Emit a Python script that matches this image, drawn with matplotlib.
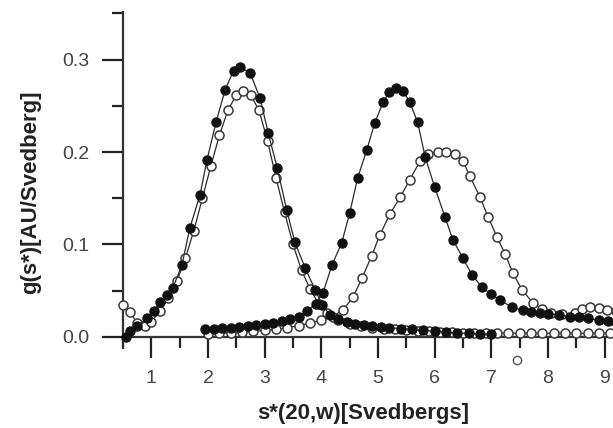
# Sedimentation coefficient distributions g(s*)

import matplotlib
matplotlib.use("Agg")
import matplotlib.pyplot as plt
from matplotlib.ticker import MultipleLocator

plt.rcParams['font.family'] = ['Liberation Sans', 'DejaVu Sans']

# first peak, filled circles
s1_fill_x = [0.55, 0.62, 0.75, 0.92, 1.05, 1.15, 1.28, 1.38, 1.54, 1.68, 1.86, 1.98, 2.14, 2.30,
             2.45, 2.56, 2.74, 2.92, 3.06, 3.22, 3.39, 3.53, 3.71, 3.89, 4.01, 4.15, 4.30, 4.45,
             4.60, 4.75, 4.90, 5.05, 5.20, 5.40, 5.60, 5.80, 6.00, 6.20, 6.40, 6.60, 6.80, 7.00]
s1_fill_y = [0.000, 0.006, 0.012, 0.020, 0.028, 0.038, 0.045, 0.053, 0.078, 0.118, 0.154, 0.191,
             0.232, 0.267, 0.288, 0.292, 0.286, 0.258, 0.221, 0.183, 0.137, 0.103, 0.075, 0.051,
             0.035, 0.024, 0.019, 0.016, 0.014, 0.013, 0.012, 0.011, 0.010, 0.009, 0.008, 0.007,
             0.006, 0.005, 0.004, 0.004, 0.003, 0.003]

# first peak, open circles
s1_open_x = [0.50, 0.62, 0.75, 0.88, 1.00, 1.15, 1.30, 1.45, 1.60, 1.75, 1.90, 2.05, 2.20, 2.35,
             2.50, 2.62, 2.75, 2.90, 3.05, 3.20, 3.35, 3.50, 3.65, 3.80, 3.95, 4.10, 4.30, 4.50,
             4.70, 4.90, 5.10, 5.30, 5.50, 5.70, 5.90, 6.10, 6.30, 6.50, 6.70, 6.90, 7.10, 7.30,
             7.50, 7.70, 7.90, 8.10, 8.30, 8.50, 8.70, 8.90, 9.10]
s1_open_y = [0.035, 0.027, 0.015, 0.012, 0.016, 0.028, 0.042, 0.060, 0.085, 0.115, 0.150, 0.185,
             0.218, 0.245, 0.262, 0.266, 0.262, 0.245, 0.212, 0.172, 0.135, 0.100, 0.072, 0.052,
             0.036, 0.026, 0.018, 0.014, 0.012, 0.010, 0.009, 0.008, 0.007, 0.006, 0.006, 0.005,
             0.005, 0.004, 0.004, 0.004, 0.004, 0.004, 0.004, 0.004, 0.004, 0.004, 0.004, 0.004,
             0.004, 0.004, 0.004]

# second peak, filled circles
s2_fill_x = [1.95, 2.10, 2.25, 2.40, 2.55, 2.70, 2.85, 3.00, 3.15, 3.30, 3.45, 3.60, 3.75, 3.90,
             4.03, 4.19, 4.36, 4.50, 4.64, 4.80, 4.94, 5.09, 5.20, 5.32, 5.44, 5.56, 5.70, 5.83,
             6.00, 6.18, 6.32, 6.50, 6.66, 6.83, 7.00, 7.15, 7.36, 7.55, 7.70, 7.85, 8.00, 8.20,
             8.38, 8.55, 8.70, 8.90, 9.05, 9.20]
s2_fill_y = [0.008, 0.009, 0.010, 0.010, 0.011, 0.012, 0.013, 0.014, 0.015, 0.017, 0.019, 0.022,
             0.028, 0.036, 0.048, 0.078, 0.102, 0.134, 0.172, 0.202, 0.231, 0.254, 0.265, 0.269,
             0.266, 0.254, 0.232, 0.195, 0.162, 0.130, 0.105, 0.085, 0.067, 0.054, 0.046, 0.040,
             0.032, 0.029, 0.027, 0.026, 0.025, 0.024, 0.022, 0.021, 0.020, 0.018, 0.017, 0.016]

# second peak, open circles
s2_open_x = [2.00, 2.20, 2.40, 2.60, 2.80, 3.00, 3.20, 3.40, 3.60, 3.80, 4.00, 4.20, 4.38, 4.56,
             4.72, 4.89, 5.03, 5.21, 5.39, 5.56, 5.74, 5.88, 6.05, 6.20, 6.35, 6.50, 6.62, 6.80,
             6.94, 7.10, 7.24, 7.38, 7.54, 7.73, 7.90, 8.05, 8.25, 8.47, 8.60, 8.74, 8.90, 9.04,
             9.20]
s2_open_y = [0.003, 0.004, 0.004, 0.005, 0.006, 0.007, 0.008, 0.010, 0.012, 0.015, 0.018, 0.022,
             0.029, 0.043, 0.064, 0.088, 0.110, 0.133, 0.151, 0.170, 0.190, 0.198, 0.200, 0.200,
             0.198, 0.190, 0.174, 0.151, 0.130, 0.108, 0.090, 0.069, 0.051, 0.037, 0.030, 0.026,
             0.025, 0.026, 0.030, 0.032, 0.031, 0.029, 0.028]

# stray point below the axis
stray_x = [7.45]
stray_y = [-0.025]

xticks = [1, 2, 3, 4, 5, 6, 7, 8, 9]
yticks = [0.0, 0.1, 0.2, 0.3]

fig = plt.figure(figsize=(6.13, 4.28), dpi=100)
ax = fig.add_axes([0.2007, 0.187, 0.832, 0.786])

line_col = '#2a2a2a'
for xs, ys in [(s1_open_x, s1_open_y), (s2_open_x, s2_open_y)]:
    ax.plot(xs, ys, color=line_col, lw=0.9, marker='o', ms=6.5, mfc='white',
            mec='#3a3a3a', mew=1.1, clip_on=False, zorder=3)
for xs, ys in [(s1_fill_x, s1_fill_y), (s2_fill_x, s2_fill_y)]:
    ax.plot(xs, ys, color=line_col, lw=0.9, marker='o', ms=6.5, mfc='#111111',
            mec='#111111', clip_on=False, zorder=4)
ax.plot(stray_x, stray_y, ls='none', marker='o', ms=6, mfc='white', mec='#555555',
        mew=1.0, clip_on=False)

ax.set_xlim(0.5, 9.5)
ax.set_ylim(-0.012, 0.352)

ax.spines['top'].set_visible(False)
ax.spines['right'].set_visible(False)
ax.spines['bottom'].set_position(('data', 0))
for side in ['left', 'bottom']:
    ax.spines[side].set_linewidth(1.6)
    ax.spines[side].set_color('#333333')

ax.set_xticks(xticks)
ax.set_xticklabels([str(t) for t in xticks])
ax.set_yticks(yticks)
ax.set_yticklabels(['%.1f' % t for t in yticks])
ax.xaxis.set_minor_locator(MultipleLocator(0.5))
ax.yaxis.set_minor_locator(MultipleLocator(0.05))
ax.tick_params(which='major', direction='out', length=15, width=1.6, color='#222222',
               labelsize=14, pad=9, labelcolor='#444444')
ax.tick_params(which='minor', direction='out', length=8, width=1.6, color='#222222')

ax.set_xlabel('s*(20,w)[Svedbergs]', fontsize=16, fontweight='bold', color='#222222')
ax.set_ylabel('g(s*)[AU/Svedberg]', fontsize=16, fontweight='bold', color='#222222')
ax.xaxis.set_label_coords(0.47, -0.165)
ax.yaxis.set_label_coords(-0.16, 0.463)

plt.savefig('out.png', dpi=100)
